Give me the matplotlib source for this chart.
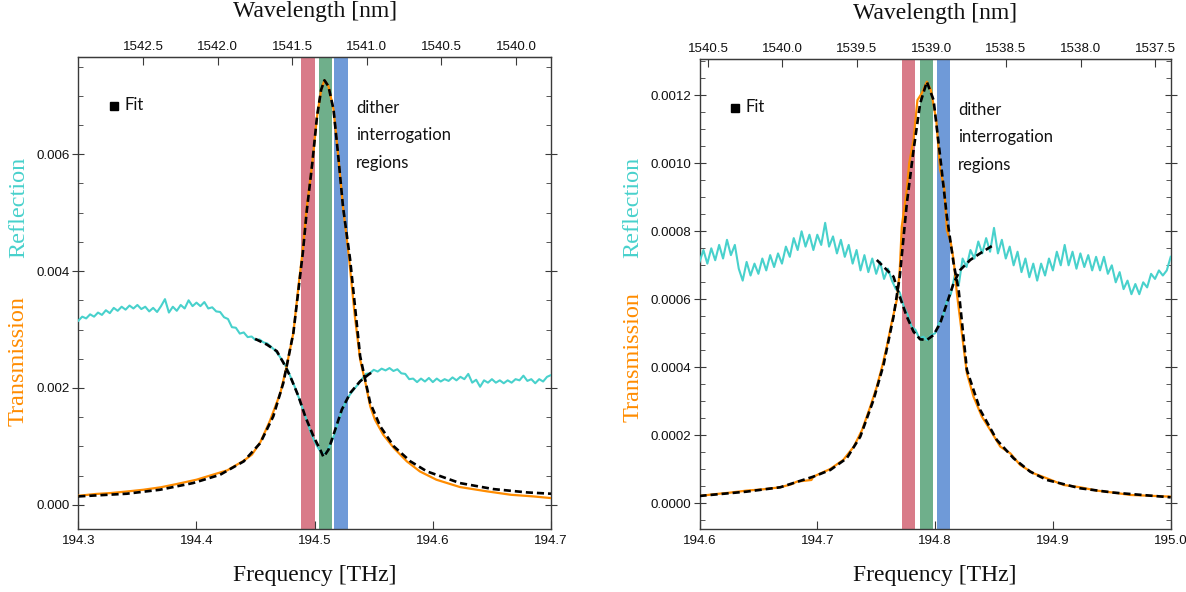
import numpy as np
import matplotlib
matplotlib.use("Agg")
import matplotlib.pyplot as plt
from matplotlib.ticker import MultipleLocator, FormatStrFormatter

plt.rcParams['font.family'] = ['Liberation Sans', 'DejaVu Sans']

C_NM_THZ = 299792.458

# ---------------- Left panel data (values in units of 1e-3) ----------------
L_xlim = (194.3, 194.7)
L_ylim = (-0.00042, 0.00767)
L_xticks = [194.3, 194.4, 194.5, 194.6, 194.7]
L_wl_ticks = [1542.5, 1542.0, 1541.5, 1541.0, 1540.5, 1540.0]
L_bands = [(194.4888, 194.5004), (194.5038, 194.5151), (194.5165, 194.5278)]

L_freq_T = [194.300, 194.315, 194.327, 194.340, 194.355, 194.370, 194.383, 194.400,
            194.412, 194.426, 194.440, 194.447, 194.454, 194.462, 194.471, 194.476,
            194.482, 194.486, 194.490, 194.493, 194.498, 194.502, 194.5055, 194.5083,
            194.5117, 194.516, 194.520, 194.524, 194.529, 194.534, 194.5385, 194.543,
            194.547, 194.551, 194.558, 194.567, 194.578, 194.589, 194.603, 194.623,
            194.646, 194.666, 194.685, 194.700]
L_trans = [0.154, 0.185, 0.200, 0.225, 0.257, 0.300, 0.354, 0.429,
           0.503, 0.589, 0.754, 0.860, 1.070, 1.429, 1.914, 2.343,
           2.943, 3.686, 4.370, 5.043, 5.845, 6.647, 7.106, 7.266,
           7.163, 6.762, 5.960, 5.100, 4.240, 3.229, 2.486, 2.086,
           1.686, 1.457, 1.200, 0.971, 0.743, 0.571, 0.429, 0.303,
           0.229, 0.171, 0.143, 0.114]

L_freq_Tfit = [194.300, 194.341, 194.369, 194.397, 194.420, 194.440, 194.454, 194.465,
               194.4735, 194.482, 194.490, 194.4934, 194.498, 194.502, 194.5055, 194.5083,
               194.5117, 194.516, 194.520, 194.524, 194.530, 194.5385, 194.547, 194.5555,
               194.567, 194.581, 194.595, 194.623, 194.651, 194.680, 194.700]
L_trans_fit = [0.143, 0.189, 0.257, 0.371, 0.514, 0.743, 1.057, 1.514,
               2.086, 2.943, 4.314, 5.043, 5.845, 6.647, 7.106, 7.266,
               7.163, 6.762, 5.960, 5.100, 4.200, 2.543, 1.743, 1.343,
               1.000, 0.743, 0.571, 0.371, 0.269, 0.211, 0.189]

L_refl = [3.15, 3.22, 3.19, 3.26, 3.22, 3.29, 3.25, 3.33, 3.28, 3.37,
          3.32, 3.39, 3.34, 3.41, 3.36, 3.42, 3.35, 3.39, 3.31, 3.37,
          3.30, 3.40, 3.52, 3.29, 3.39, 3.32, 3.42, 3.36, 3.50, 3.40,
          3.46, 3.40, 3.47, 3.36, 3.38, 3.31, 3.30, 3.21, 3.18, 3.04,
          3.03, 2.93, 2.95, 2.87, 2.88, 2.82, 2.83, 2.78, 2.76, 2.70,
          2.64, 2.55, 2.45, 2.33, 2.17, 2.01, 1.83, 1.64, 1.44, 1.24,
          1.08, 0.96, 0.87, 0.90, 1.03, 1.20, 1.43, 1.62, 1.78, 1.89,
          1.98, 2.06, 2.15, 2.24, 2.25, 2.31, 2.28, 2.33, 2.30, 2.34,
          2.29, 2.32, 2.25, 2.24, 2.15, 2.16, 2.10, 2.16, 2.11, 2.17,
          2.10, 2.16, 2.11, 2.15, 2.12, 2.18, 2.13, 2.19, 2.15, 2.24,
          2.09, 2.14, 2.02, 2.13, 2.09, 2.15, 2.09, 2.13, 2.08, 2.13,
          2.09, 2.15, 2.13, 2.21, 2.12, 2.15, 2.08, 2.15, 2.11, 2.19,
          2.22]

L_freq_Rfit = [194.4496, 194.4595, 194.468, 194.4736, 194.4793, 194.4863, 194.492, 194.499,
               194.5047, 194.5075, 194.5117, 194.5174, 194.523, 194.5301, 194.5385, 194.5456,
               194.5498]
L_refl_fit = [2.840, 2.743, 2.629, 2.429, 2.200, 1.857, 1.514, 1.171,
              0.943, 0.817, 0.943, 1.286, 1.629, 1.914, 2.114, 2.229,
              2.286]

# ---------------- Right panel data (values in units of 1e-4) ----------------
R_xlim = (194.6, 195.0)
R_ylim = (-0.0000765, 0.001306)
R_xticks = [194.6, 194.7, 194.8, 194.9, 195.0]
R_wl_ticks = [1540.5, 1540.0, 1539.5, 1539.0, 1538.5, 1538.0, 1537.5]
R_bands = [(194.7721, 194.7831), (194.7873, 194.7984), (194.8015, 194.8125)]

R_freq_T = [194.600, 194.612, 194.626, 194.640, 194.654, 194.6685, 194.678, 194.6826,
            194.695, 194.6967, 194.711, 194.722, 194.731, 194.738, 194.745, 194.7505,
            194.755, 194.759, 194.763, 194.7675, 194.770, 194.7717, 194.776, 194.778,
            194.7817, 194.785, 194.7887, 194.793, 194.7964, 194.801, 194.8043, 194.8077,
            194.810, 194.8134, 194.8157, 194.8185, 194.8227, 194.827, 194.8326, 194.8397,
            194.8468, 194.8553, 194.8638, 194.8722, 194.8836, 194.8949, 194.909, 194.9232,
            194.9373, 194.9515, 194.9656, 194.9798, 195.000]
R_trans = [0.216, 0.265, 0.314, 0.373, 0.412, 0.471, 0.559, 0.637,
           0.686, 0.784, 1.010, 1.275, 1.667, 2.157, 2.843, 3.431,
           4.020, 4.608, 5.294, 5.980, 6.863, 8.137, 9.216, 10.00,
           10.69, 11.86, 12.06, 12.40, 12.16, 11.27, 9.80, 9.31,
           8.04, 7.65, 7.157, 6.176, 5.000, 3.824, 3.137, 2.549,
           2.157, 1.667, 1.471, 1.127, 0.882, 0.735, 0.539, 0.471,
           0.373, 0.314, 0.245, 0.225, 0.196]

R_freq_Tfit = [194.600, 194.640, 194.6685, 194.6967, 194.711, 194.725, 194.7365, 194.7477,
               194.7562, 194.7647, 194.770, 194.776, 194.7817, 194.7873, 194.793, 194.7987,
               194.8043, 194.810, 194.8157, 194.820, 194.827, 194.8383, 194.8524, 194.8666,
               194.8807, 194.8949, 194.9232, 194.9515, 195.000]
R_trans_fit = [0.216, 0.343, 0.471, 0.784, 0.980, 1.324, 1.961, 3.039,
               4.069, 5.490, 6.667, 8.824, 10.39, 11.76, 12.40, 11.86,
               10.20, 8.43, 7.06, 6.27, 3.92, 2.745, 1.863, 1.324,
               0.931, 0.686, 0.441, 0.314, 0.176]

R_refl = [7.10, 7.45, 7.05, 7.50, 7.15, 7.60, 7.20, 7.75, 7.30, 7.60,
          6.90, 6.55, 7.10, 6.70, 7.05, 6.75, 7.20, 6.85, 7.30, 6.95,
          7.35, 7.05, 7.55, 7.25, 7.80, 7.45, 8.00, 7.55, 7.90, 7.45,
          7.90, 7.60, 8.25, 7.55, 7.85, 7.35, 7.75, 7.25, 7.60, 7.05,
          7.45, 6.85, 7.30, 6.80, 7.20, 6.75, 7.10, 6.60, 6.90, 6.55,
          6.30, 6.20, 5.80, 5.55, 5.20, 5.10, 4.85, 4.90, 4.80, 4.95,
          5.00, 5.30, 5.50, 5.95, 6.15, 6.70, 6.40, 7.20, 6.95, 7.45,
          7.20, 7.70, 7.35, 7.80, 7.40, 8.10, 7.35, 7.75, 7.20, 7.55,
          7.00, 7.40, 6.80, 7.20, 6.65, 7.05, 6.55, 7.05, 6.70, 7.20,
          6.85, 7.40, 7.00, 7.60, 7.00, 7.40, 6.90, 7.35, 6.95, 7.30,
          6.85, 7.25, 6.85, 7.25, 6.75, 7.00, 6.50, 6.80, 6.30, 6.55,
          6.15, 6.45, 6.15, 6.50, 6.35, 6.75, 6.60, 6.85, 6.70, 6.85,
          7.25]

R_freq_Rfit = [194.7505, 194.7647, 194.770, 194.776, 194.7817, 194.7873, 194.793, 194.7987,
               194.8043, 194.810, 194.8157, 194.8213, 194.8298, 194.8383, 194.8496]
R_refl_fit = [7.157, 6.667, 6.078, 5.490, 5.049, 4.824, 4.804, 4.951,
              5.294, 5.882, 6.471, 6.863, 7.157, 7.353, 7.598]

# ---------------- styling ----------------
ORANGE = '#FF8C00'
TURQ = '#48D1CC'
BAND_COLORS = ['#D97B89', '#6FAF8B', '#6F9AD8']
SPINE = '#3a3a3a'
SERIF = ['Liberation Serif', 'DejaVu Serif']
ANNOT = ['Lato', 'DejaVu Sans']
TICKSIZE = 9.6

W, H = 1186, 592
fig = plt.figure(figsize=(W / 100, H / 100), dpi=100)
axL = fig.add_axes([78.3 / W, 1 - 529.3 / H, (551.0 - 78.3) / W, (529.3 - 56.7) / H])
axR = fig.add_axes([699.5 / W, 1 - 529.3 / H, (1170.7 - 699.5) / W, (529.3 - 59.3) / H])


def f2l(f):
    f = np.asarray(f, dtype=float)
    with np.errstate(divide='ignore', invalid='ignore'):
        return C_NM_THZ / f


def draw(ax, xlim, ylim, xticks, wl_ticks, bands, fT, T, fTf, Tf, R, fRf, Rf, scale,
         ymajor, yminor, yfmt, dither_x):
    for (a, b), c in zip(bands, BAND_COLORS):
        ax.axvspan(a, b, color=c, lw=0, zorder=1)
    fR = np.linspace(xlim[0], xlim[1], len(R))
    ax.plot(fR, np.array(R) * scale, color=TURQ, lw=1.5, zorder=3)
    ax.plot(fT, np.array(T) * scale, color=ORANGE, lw=1.6, zorder=4)
    ax.plot(fTf, np.array(Tf) * scale, color='black', lw=1.9, dashes=(2.7, 1.5), zorder=5)
    ax.plot(fRf, np.array(Rf) * scale, color='black', lw=1.9, dashes=(2.7, 1.5), zorder=5)
    ax.set_xlim(*xlim)
    ax.set_ylim(*ylim)
    ax.set_xticks(xticks)
    ax.xaxis.set_major_formatter(FormatStrFormatter('%.1f'))
    ax.yaxis.set_major_locator(MultipleLocator(ymajor))
    ax.yaxis.set_minor_locator(MultipleLocator(yminor))
    ax.yaxis.set_major_formatter(FormatStrFormatter(yfmt))
    ax.tick_params(axis='x', which='both', direction='in', length=6, top=False,
                   pad=4, labelsize=TICKSIZE, colors=SPINE, labelcolor='#111111')
    ax.tick_params(axis='y', which='major', direction='inout', length=8, right=True,
                   pad=2, labelsize=TICKSIZE, colors=SPINE, labelcolor='#111111')
    ax.tick_params(axis='y', which='minor', direction='in', length=3.5, right=True,
                   colors=SPINE)
    for s in ax.spines.values():
        s.set_color(SPINE)
        s.set_linewidth(1.0)
    sec = ax.secondary_xaxis('top', functions=(f2l, f2l))
    sec.set_xticks(wl_ticks)
    sec.xaxis.set_major_formatter(FormatStrFormatter('%.1f'))
    sec.tick_params(direction='in', length=6, pad=3, labelsize=TICKSIZE, colors=SPINE,
                    labelcolor='#111111')
    sec.spines['top'].set_color(SPINE)
    # legend-like "Fit" marker
    ax.plot([0.075], [0.896], marker='s', ms=6.2, color='black', transform=ax.transAxes,
            clip_on=False, zorder=6)
    ax.text(0.097, 0.898, 'Fit', transform=ax.transAxes, ha='left', va='center',
            fontsize=12, family=ANNOT, color='#111111')
    for txt, yy in zip(['dither', 'interrogation', 'regions'], [0.892, 0.834, 0.776]):
        ax.text(dither_x, yy, txt, transform=ax.transAxes, ha='left', va='center',
                fontsize=12, family=ANNOT, color='#111111')


draw(axL, L_xlim, L_ylim, L_xticks, L_wl_ticks, L_bands, L_freq_T, L_trans,
     L_freq_Tfit, L_trans_fit, L_refl, L_freq_Rfit, L_refl_fit, 1e-3,
     0.002, 0.0005, '%.3f', 0.5875)
draw(axR, R_xlim, R_ylim, R_xticks, R_wl_ticks, R_bands, R_freq_T, R_trans,
     R_freq_Tfit, R_trans_fit, R_refl, R_freq_Rfit, R_refl_fit, 1e-4,
     0.0002, 0.00005, '%.4f', 0.5486)

# axis titles
for cx, ty in [((78.3 + 551.0) / 2, 12), ((699.5 + 1170.7) / 2, 14)]:
    fig.text(cx / W, 1 - ty / H, 'Wavelength [nm]', ha='center', va='center',
             fontsize=17, family=SERIF, color='#111111')
    fig.text(cx / W, 1 - 575 / H, 'Frequency [THz]', ha='center', va='center',
             fontsize=17, family=SERIF, color='#111111')

for lx, ty, ry in [(18.3, 360.7, 207), (633, 357.5, 207.5)]:
    fig.text(lx / W, 1 - ty / H, 'Transmission', rotation=90, ha='center', va='center',
             fontsize=17.5, family=SERIF, color=ORANGE)
    fig.text(lx / W, 1 - ry / H, 'Reflection', rotation=90, ha='center', va='center',
             fontsize=17.5, family=SERIF, color=TURQ)

fig.savefig('out.png', dpi=100)
